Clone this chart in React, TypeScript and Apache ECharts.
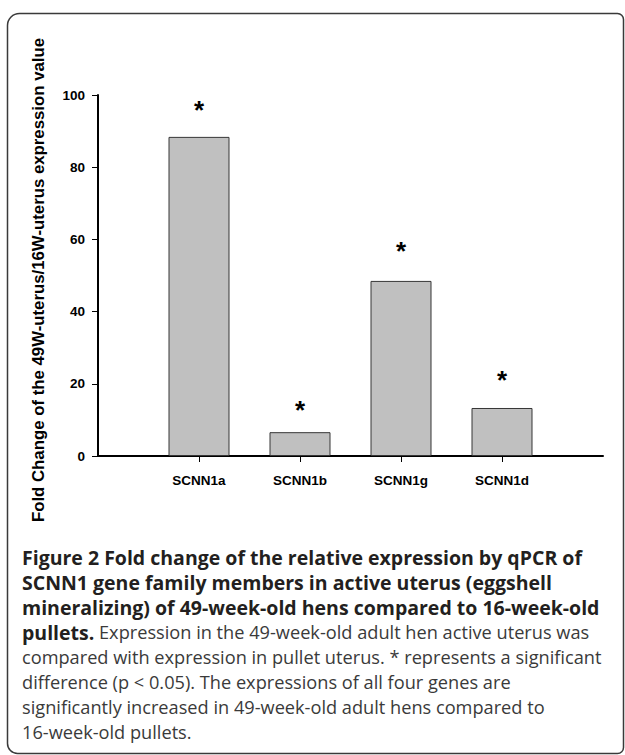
import React, { useEffect, useRef } from "react";
import * as echarts from "echarts";

const categories = ["", "SCNN1a", "SCNN1b", "SCNN1g", "SCNN1d", ""];
const foldChange = [null, 88.4, 6.6, 48.5, 13.3, null];
const significance = ["", "*", "*", "*", "*", ""];
const yTicks = [0, 20, 40, 60, 80, 100];
const yAxisTitle = "Fold Change of the 49W-uterus/16W-uterus expression value";
const captionBold = [
  "Figure 2 Fold change of the relative expression by qPCR of",
  "SCNN1 gene family members in active uterus (eggshell",
  "mineralizing) of 49-week-old hens compared to 16-week-old",
  "pullets.",
];
const captionRegular = [
  " Expression in the 49-week-old adult hen active uterus was",
  "compared with expression in pullet uterus. * represents a significant",
  "difference (p < 0.05). The expressions of all four genes are",
  "significantly increased in 49-week-old adult hens compared to",
  "16-week-old pullets.",
];

export default function App() {
  const ref = useRef<HTMLDivElement>(null);
  useEffect(() => {
    if (!ref.current) return;
    const chart = echarts.init(ref.current, null, { renderer: "svg" });
    const labelDist = [0, 14, 9, 17, 15, 0];
    const captionText =
      captionBold.slice(0, 3).map((l) => `{b|${l}}`).join("\n") +
      "\n" +
      `{b|${captionBold[3]}}{r|${captionRegular[0]}}\n` +
      captionRegular.slice(1).map((l) => `{r|${l}}`).join("\n");
    chart.setOption({
      animation: false,
      grid: { left: 98, right: 22, top: 95, bottom: 299, containLabel: false },
      xAxis: {
        type: "category",
        data: categories,
        boundaryGap: false,
        axisLine: { lineStyle: { color: "#000", width: 2 } },
        axisTick: {
          length: 6,
          interval: (i: number) => i > 0 && i < categories.length - 1,
          lineStyle: { color: "#000", width: 1 },
        },
        axisLabel: {
          interval: 0,
          margin: 17,
          fontFamily: "Arial, Liberation Sans, sans-serif",
          fontWeight: "bold",
          fontSize: 13.5,
          color: "#000",
        },
        splitLine: { show: false },
      },
      yAxis: {
        type: "value",
        min: yTicks[0],
        max: yTicks[yTicks.length - 1],
        interval: yTicks[1] - yTicks[0],
        axisLine: { show: true, lineStyle: { color: "#000", width: 2 } },
        axisTick: { show: true, length: 6, lineStyle: { color: "#000", width: 1 } },
        axisLabel: {
          margin: 13,
          fontFamily: "Arial, Liberation Sans, sans-serif",
          fontWeight: "bold",
          fontSize: 13.5,
          color: "#000",
        },
        splitLine: { show: false },
      },
      series: [
        {
          type: "bar",
          barWidth: 61,
          data: foldChange.map((v, i) => ({
            value: v,
            label: {
              show: v !== null,
              position: "top",
              distance: labelDist[i],
              formatter: () => significance[i],
              fontFamily: "Arial, Liberation Sans, sans-serif",
              fontWeight: "bold",
              fontSize: 26,
              color: "#000",
            },
          })),
          itemStyle: { color: "#c0c0c0", borderColor: "#363636", borderWidth: 1 },
        },
      ],
      graphic: [
        {
          type: "rect",
          shape: { x: 7.5, y: 13.5, width: 616, height: 740, r: [12, 6, 6, 10] },
          style: { fill: "none", stroke: "#3a3a3a", lineWidth: 1.5 },
          silent: true,
        },
        {
          type: "text",
          x: 38,
          y: 280,
          rotation: Math.PI / 2,
          style: {
            text: yAxisTitle,
            align: "center",
            verticalAlign: "middle",
            fontFamily: "Arial, Liberation Sans, sans-serif",
            fontWeight: "bold",
            fontSize: 16.8,
            fill: "#000",
          },
        },
        {
          type: "text",
          left: 22,
          top: 547,
          style: {
            text: captionText,
            rich: {
              b: {
                fontFamily: "Open Sans, sans-serif",
                fontWeight: "bold",
                fontSize: 19.5,
                lineHeight: 25,
                fill: "#231f20",
              },
              r: {
                fontFamily: "Open Sans, sans-serif",
                fontWeight: "normal",
                fontSize: 18.2,
                lineHeight: 25,
                fill: "#3a3a3a",
              },
            },
          },
        },
      ],
    });
    return () => chart.dispose();
  }, []);
  return (
    <div
      ref={ref}
      style={{ position: "fixed", left: 0, top: 0, width: 625, height: 755, background: "#fff" }}
    />
  );
}
